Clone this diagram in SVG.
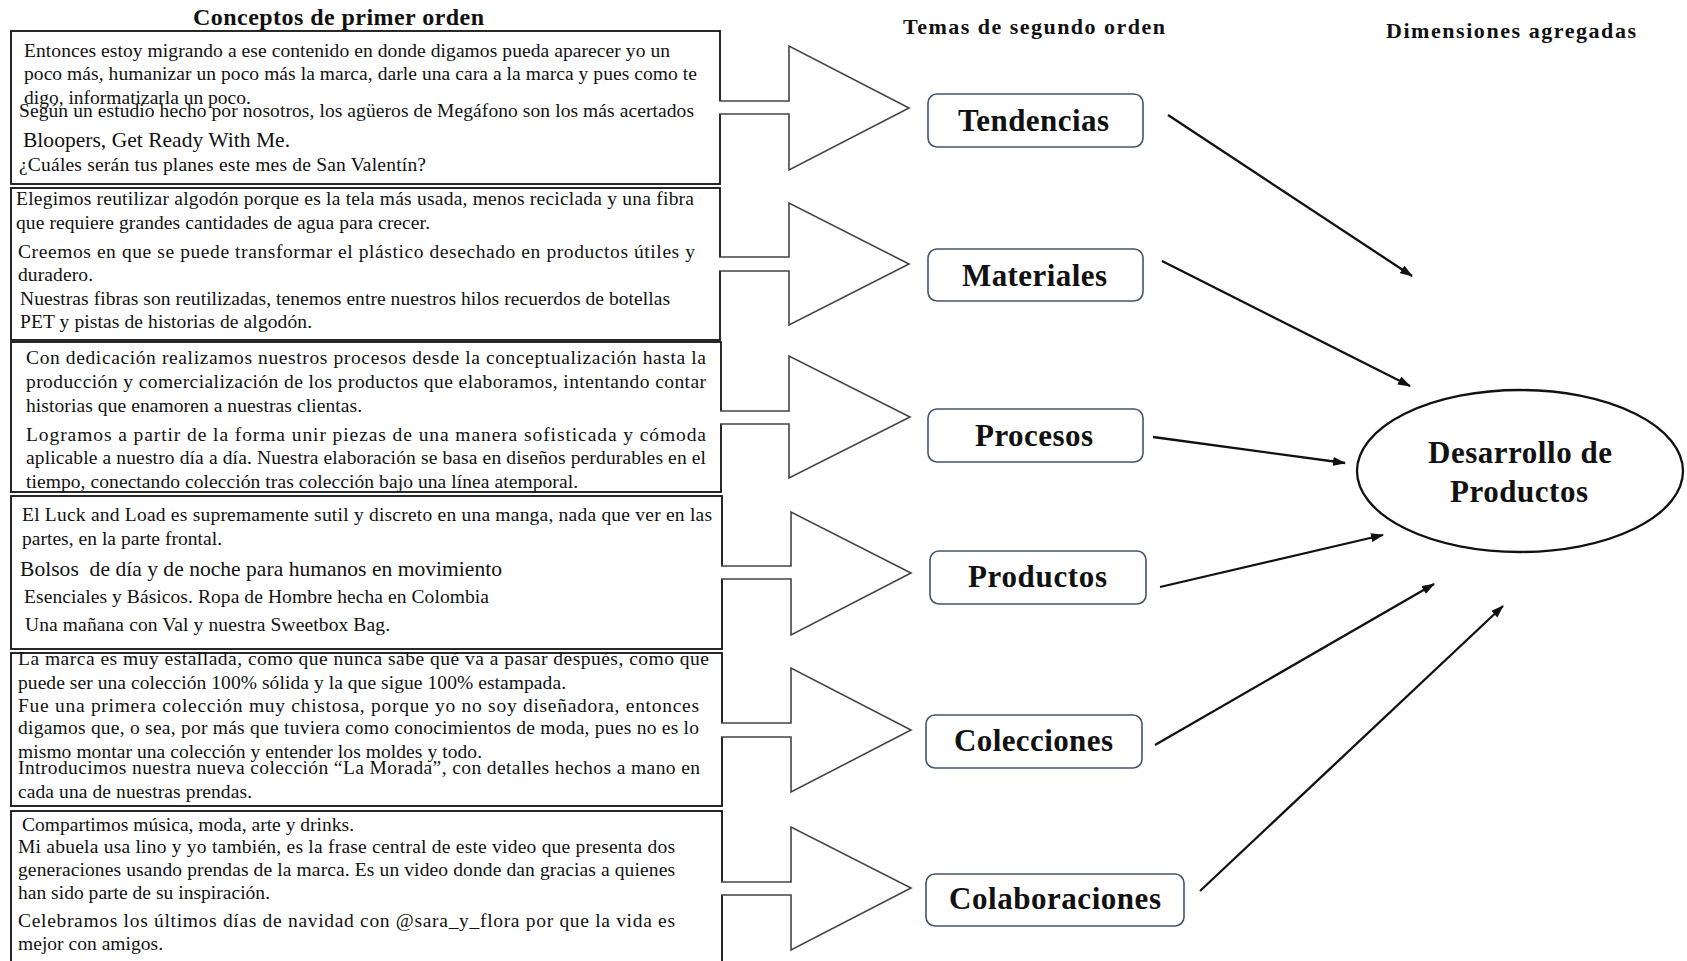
<svg xmlns="http://www.w3.org/2000/svg" width="1687" height="961" viewBox="0 0 1687 961">
<style>
.bg{fill:#ffffff}
.box{fill:#ffffff;stroke:#111111;stroke-width:1.8}
.blk{fill:#ffffff;stroke:#444444;stroke-width:1.6;stroke-linejoin:miter}
.t{font-family:"Liberation Serif","Times New Roman",serif;font-size:19.5px;fill:#111111}
.tb{font-family:"Liberation Serif","Times New Roman",serif;font-size:21.5px;fill:#111111}
.hd{font-family:"Liberation Serif","Times New Roman",serif;font-size:22px;font-weight:bold;fill:#111111}
.hd1{font-size:24px}
.node{fill:#ffffff;stroke:#44546a;stroke-width:1.6}
.lbl{font-family:"Liberation Serif","Times New Roman",serif;font-size:31px;font-weight:bold;fill:#111111}
.con{stroke:#111111;stroke-width:2.3;fill:none;marker-end:url(#ah)}
.ell{fill:#ffffff;stroke:#111111;stroke-width:2.3}
</style>
<defs>
<marker id="ah" viewBox="0 0 13 9" refX="12" refY="4.5" markerWidth="13" markerHeight="9" markerUnits="userSpaceOnUse" orient="auto">
<path d="M0,0 L13,4.5 L0,9 z" fill="#111111"/>
</marker>
</defs>
<rect class="bg" x="0" y="0" width="1687" height="961"/>

<g id="headers">
<text class="hd hd1" x="193" y="25" textLength="291">Conceptos de primer orden</text>
<text class="hd" x="903" y="34" textLength="262">Temas de segundo orden</text>
<text class="hd" x="1386" y="38" textLength="250">Dimensiones agregadas</text>
</g>

<g id="box1">
<rect class="box" x="11" y="31" width="709" height="153"/>
<path class="blk" d="M719,101 H789 V46 L909,108 L789,170 V114 H719"/>
<text class="t" x="24" y="57" textLength="646">Entonces estoy migrando a ese contenido en donde digamos pueda aparecer yo un</text>
<text class="t" x="24" y="80" textLength="673">poco más, humanizar un poco más la marca, darle una cara a la marca y pues como te</text>
<text class="t" x="24" y="104">digo, informatizarla un poco.</text>
<text class="t" x="19" y="117" textLength="675">Según un estudio hecho por nosotros, los agüeros de Megáfono son los más acertados</text>
<text class="tb" x="23" y="147" textLength="267">Bloopers, Get Ready With Me.</text>
<text class="t" x="19" y="171" textLength="407">¿Cuáles serán tus planes este mes de San Valentín?</text>
</g>

<g id="box2">
<rect class="box" x="11" y="188" width="709" height="152"/>
<path class="blk" d="M719,257 H789 V203 L909,264 L789,325 V271 H719"/>
<text class="t" x="16" y="205" textLength="678">Elegimos reutilizar algodón porque es la tela más usada, menos reciclada y una fibra</text>
<text class="t" x="16" y="229" textLength="414">que requiere grandes cantidades de agua para crecer.</text>
<text class="t" x="18" y="258" textLength="677">Creemos en que se puede transformar el plástico desechado en productos útiles y</text>
<text class="t" x="18" y="281" textLength="75">duradero.</text>
<text class="t" x="20" y="305" textLength="650">Nuestras fibras son reutilizadas, tenemos entre nuestros hilos recuerdos de botellas</text>
<text class="t" x="20" y="328" textLength="292">PET y pistas de historias de algodón.</text>
</g>

<g id="box3">
<rect class="box" x="11" y="342" width="710" height="150"/>
<path class="blk" d="M720,411 H789 V356 L910,417 L789,478 V424 H720"/>
<text class="t" x="26" y="364" textLength="680">Con dedicación realizamos nuestros procesos desde la conceptualización hasta la</text>
<text class="t" x="26" y="388" textLength="680">producción y comercialización de los productos que elaboramos, intentando contar</text>
<text class="t" x="26" y="412" textLength="336">historias que enamoren a nuestras clientas.</text>
<text class="t" x="26" y="441" textLength="680">Logramos a partir de la forma unir piezas de una manera sofisticada y cómoda</text>
<text class="t" x="26" y="464" textLength="680">aplicable a nuestro día a día. Nuestra elaboración se basa en diseños perdurables en el</text>
<text class="t" x="26" y="488" textLength="552">tiempo, conectando colección tras colección bajo una línea atemporal.</text>
</g>

<g id="box4">
<rect class="box" x="11" y="496" width="711" height="153"/>
<path class="blk" d="M721,566 H791 V512 L911,573 L791,635 V579 H721"/>
<text class="t" x="22" y="521" textLength="690">El Luck and Load es supremamente sutil y discreto en una manga, nada que ver en las</text>
<text class="t" x="22" y="545" textLength="200">partes, en la parte frontal.</text>
<text class="tb" x="20" y="576" textLength="482" style="white-space:pre">Bolsos  de día y de noche para humanos en movimiento</text>
<text class="t" x="24" y="603" textLength="465">Esenciales y Básicos. Ropa de Hombre hecha en Colombia</text>
<text class="t" x="25" y="631" textLength="365">Una mañana con Val y nuestra Sweetbox Bag.</text>
</g>

<g id="box5">
<rect class="box" x="11" y="653" width="711" height="153"/>
<path class="blk" d="M721,723 H791 V668 L911,730 L791,792 V737 H721"/>
<text class="t" x="18" y="665" textLength="691">La marca es muy estallada, como que nunca sabe qué va a pasar después, como que</text>
<text class="t" x="18" y="689" textLength="548">puede ser una colección 100% sólida y la que sigue 100% estampada.</text>
<text class="t" x="18" y="712" textLength="681">Fue una primera colección muy chistosa, porque yo no soy diseñadora, entonces</text>
<text class="t" x="18" y="734" textLength="681">digamos que, o sea, por más que tuviera como conocimientos de moda, pues no es lo</text>
<text class="t" x="18" y="758" textLength="464">mismo montar una colección y entender los moldes y todo.</text>
<text class="t" x="18" y="774" textLength="682">Introducimos nuestra nueva colección “La Morada”, con detalles hechos a mano en</text>
<text class="t" x="18" y="798" textLength="234">cada una de nuestras prendas.</text>
</g>

<g id="box6">
<rect class="box" x="11" y="811" width="711" height="160"/>
<path class="blk" d="M721,882 H791 V827 L911,888 L791,950 V895 H721"/>
<text class="t" x="22" y="831" textLength="332">Compartimos música, moda, arte y drinks.</text>
<text class="t" x="18" y="853" textLength="657">Mi abuela usa lino y yo también, es la frase central de este video que presenta dos</text>
<text class="t" x="18" y="876" textLength="657">generaciones usando prendas de la marca. Es un video donde dan gracias a quienes</text>
<text class="t" x="18" y="899" textLength="252">han sido parte de su inspiración.</text>
<text class="t" x="18" y="927" textLength="657">Celebramos los últimos días de navidad con @sara_y_flora por que la vida es</text>
<text class="t" x="18" y="950" textLength="145">mejor con amigos.</text>
</g>

<g id="tendencias">
<rect class="node" x="928" y="94" width="215" height="53" rx="9"/>
<text class="lbl" x="958" y="131" textLength="151">Tendencias</text>
</g>
<g id="materiales">
<rect class="node" x="928" y="249" width="215" height="52" rx="9"/>
<text class="lbl" x="962" y="286" textLength="145">Materiales</text>
</g>
<g id="procesos">
<rect class="node" x="928" y="409" width="215" height="53" rx="9"/>
<text class="lbl" x="975" y="446" textLength="118">Procesos</text>
</g>
<g id="productos">
<rect class="node" x="930" y="551" width="216" height="53" rx="9"/>
<text class="lbl" x="968" y="587" textLength="139">Productos</text>
</g>
<g id="colecciones">
<rect class="node" x="926" y="715" width="216" height="53" rx="9"/>
<text class="lbl" x="954" y="751" textLength="159">Colecciones</text>
</g>
<g id="colaboraciones">
<rect class="node" x="926" y="874" width="258" height="52" rx="9"/>
<text class="lbl" x="949" y="909" textLength="212">Colaboraciones</text>
</g>

<g id="desarrollo">
<ellipse class="ell" cx="1520" cy="471" rx="163" ry="81"/>
<text class="lbl" x="1428" y="463" textLength="184">Desarrollo de</text>
<text class="lbl" x="1450" y="502" textLength="138">Productos</text>
</g>

<g id="connectors">
<line class="con" x1="1168" y1="115" x2="1412" y2="276"/>
<line class="con" x1="1162" y1="261" x2="1410" y2="386"/>
<line class="con" x1="1153" y1="437" x2="1345" y2="463"/>
<line class="con" x1="1160" y1="587" x2="1383" y2="535"/>
<line class="con" x1="1155" y1="745" x2="1434" y2="584"/>
<line class="con" x1="1200" y1="891" x2="1503" y2="606"/>
</g>
</svg>
